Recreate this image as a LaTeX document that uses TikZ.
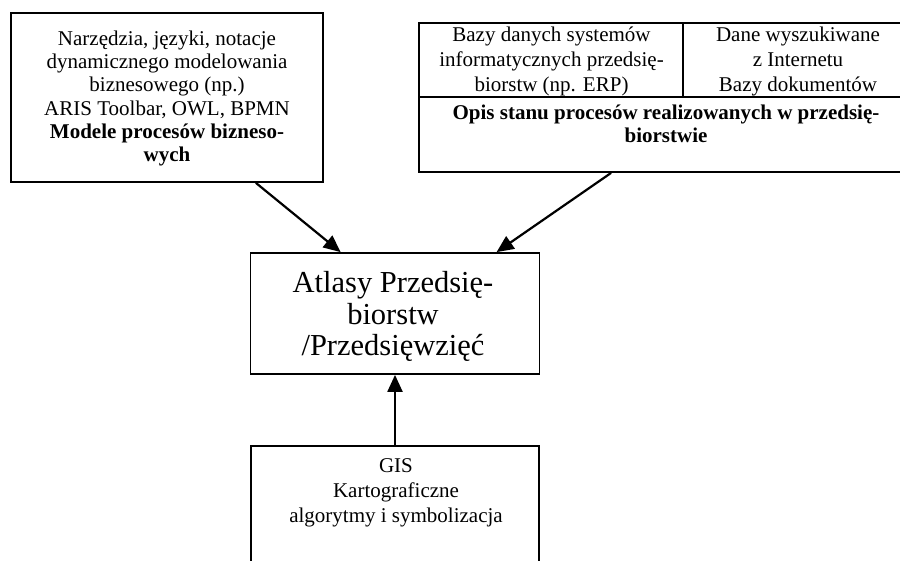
\documentclass[tikz,border=0pt]{standalone}
\usepackage{fontspec}
\setmainfont{Liberation Serif}
\usetikzlibrary{arrows.meta,calc}
\begin{document}
\begin{tikzpicture}[x=1pt,y=-1pt,
  box/.style={draw,line width=1.8pt,rectangle,inner sep=0pt},
  txt/.style={align=center,inner sep=0pt,font=\fontsize{21}{23.3}\selectfont},
  arr/.style={line width=2.2pt,-{Triangle[length=17pt,width=15pt]}}]
\clip (0,0) rectangle (900,560);
% left box
\node[box,minimum width=312,minimum height=169] (lp) at (167,97.5) {};
\node[txt] (lpt) at (167,98.5) {Narzędzia, języki, notacje\\dynamicznego modelowania\\biznesowego (np.)\\ARIS Toolbar, OWL, BPMN\\\textbf{Modele procesów bizneso-}\\\textbf{wych}};
% right box (table)
\node[box,minimum width=493,minimum height=149] (data) at (665.5,97.5) {};
\draw[line width=1.8pt] ($(data.north west)+(0,75)$) -- ($(data.north east)+(0,75)$);
\draw[line width=1.8pt] ($(data.north west)+(265,0)$) -- ($(data.north west)+(265,75)$);
\node[txt,font=\fontsize{21}{25}\selectfont] (c1) at (551.5,61) {Bazy danych systemów\\informatycznych przedsię-\\biorstw (np. ERP)};
\node[txt,font=\fontsize{21}{25}\selectfont] (c2) at (798,61) {Dane wyszukiwane\\z Internetu\\Bazy dokumentów};
\node[txt,font=\bfseries\fontsize{21}{22.5}\selectfont] (c3) at (666,124) {Opis stanu procesów realizowanych w przedsię-\\biorstwie};
% center box
\node[box,minimum width=289,minimum height=121] (atlas) at (395,313.5) {};
\node[txt,font=\fontsize{30.5}{31.5}\selectfont] (atlast) at (393,316.5) {Atlasy Przedsię-\\biorstw\\/Przedsięwzięć};
% bottom box
\node[box,minimum width=288,minimum height=160,anchor=north] (gis) at (395,445) {};
\node[txt,font=\fontsize{21}{25}\selectfont] (gist) at (396,493) {GIS\\Kartograficzne\\algorytmy i symbolizacja};
% arrows
\draw[arr] ($(lp.south east)+(-68,0)$) -- ($(atlas.north west)+(91,0)$);
\draw[arr] ($(data.south west)+(193,0)$) -- ($(atlas.north west)+(247,0)$);
\draw[arr] (gis.north) -- (atlas.south);
\end{tikzpicture}
\end{document}
